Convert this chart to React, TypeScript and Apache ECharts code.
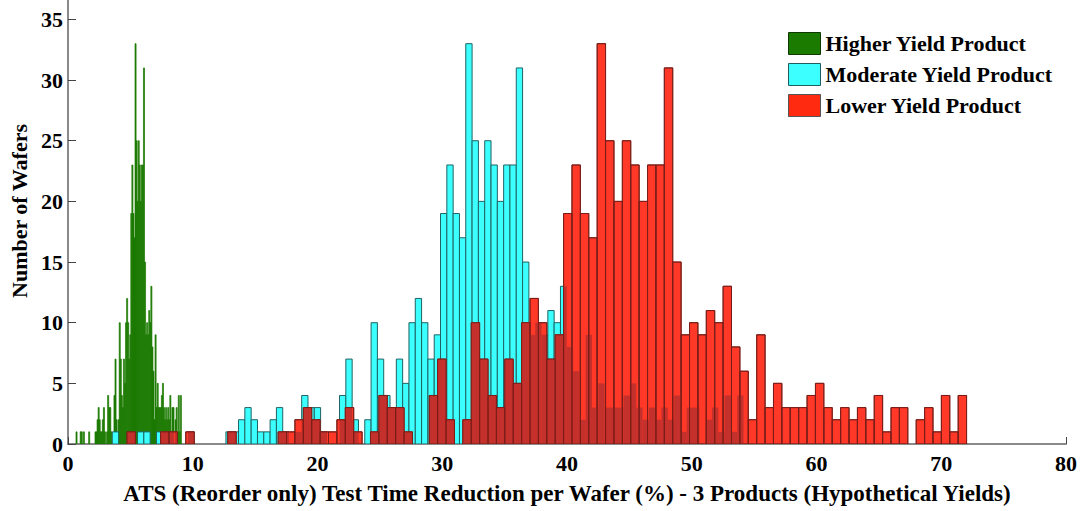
import React, { useEffect, useRef } from "react";
import * as echarts from "echarts";

// Histogram counts (100 bins each)
const higherCounts = [
  1, 0, 0, 0, 1, 1, 0, 1, 0, 0,
  0, 0, 1, 0, 0, 0, 0, 0, 1, 1,
  2, 3, 2, 1, 1, 2, 3, 1, 0, 1,
  4, 3, 3, 1, 0, 0, 4, 7, 2, 0,
  2, 10, 7, 4, 3, 7, 5, 10, 12, 10,
  7, 9, 19, 23, 19, 17, 33, 25, 20, 25,
  23, 20, 23, 23, 31, 15, 9, 10, 9, 11,
  10, 13, 8, 6, 2, 9, 3, 5, 3, 3,
  3, 4, 5, 3, 2, 3, 2, 3, 2, 4,
  1, 3, 3, 0, 2, 3, 1, 4, 1, 4,
];
const moderateCounts = [
  1, 0, 0, 0, 1, 1, 0, 1, 0, 0,
  0, 0, 1, 0, 0, 0, 0, 0, 1, 1,
  2, 3, 2, 1, 1, 2, 3, 1, 0, 1,
  4, 3, 3, 1, 0, 0, 4, 7, 2, 0,
  2, 10, 7, 4, 3, 7, 5, 10, 12, 10,
  7, 9, 19, 23, 19, 17, 33, 25, 20, 25,
  23, 20, 23, 23, 31, 15, 9, 10, 9, 11,
  10, 13, 8, 6, 2, 9, 3, 5, 3, 3,
  3, 4, 5, 3, 2, 3, 2, 3, 2, 4,
  1, 3, 3, 0, 2, 3, 1, 4, 1, 4,
];
const lowerCounts = [
  1, 0, 0, 0, 1, 1, 0, 1, 0, 0,
  0, 0, 1, 0, 0, 0, 0, 0, 1, 1,
  2, 3, 2, 1, 1, 2, 3, 1, 0, 1,
  4, 3, 3, 1, 0, 0, 4, 7, 2, 0,
  2, 10, 7, 4, 3, 7, 5, 10, 12, 10,
  7, 9, 19, 23, 19, 17, 33, 25, 20, 25,
  23, 20, 23, 23, 31, 15, 9, 10, 9, 11,
  10, 13, 8, 6, 2, 9, 3, 5, 3, 3,
  3, 4, 5, 3, 2, 3, 2, 3, 2, 4,
  1, 3, 3, 0, 2, 3, 1, 4, 1, 4,
];

// bin start and width (in % test time reduction)
const higherBins = { start: 0.641, width: 0.0845 };
const moderateBins = { start: 3.55, width: 0.506 };
const lowerBins = { start: 4.73, width: 0.673 };

const seriesNames = ["Higher Yield Product", "Moderate Yield Product", "Lower Yield Product"];
const xTicks = [0, 10, 20, 30, 40, 50, 60, 70, 80];
const yTicks = [0, 5, 10, 15, 20, 25, 30, 35];
const xTitle = "ATS (Reorder only) Test Time Reduction per Wafer (%) - 3 Products (Hypothetical Yields)";
const yTitle = "Number of Wafers";

type Bin = [number, number, number];

function toBins(start: number, width: number, counts: number[]): Bin[] {
  return counts
    .map((c, i) => [start + i * width, start + (i + 1) * width, c] as Bin)
    .filter((b) => b[2] > 0);
}

function heightAt(bins: Bin[], x: number): number {
  for (const b of bins) if (x >= b[0] && x < b[1]) return b[2];
  return 0;
}

function overlapBins(top: Bin[], under: Bin[][]): Bin[] {
  const out: Bin[] = [];
  for (const [a, b, h] of top) {
    const pts = new Set<number>([a, b]);
    under.forEach((bs) =>
      bs.forEach(([u0, u1]) => {
        if (u0 > a && u0 < b) pts.add(u0);
        if (u1 > a && u1 < b) pts.add(u1);
      })
    );
    const xs = Array.from(pts).sort((p, q) => p - q);
    let cur: Bin | null = null;
    for (let i = 0; i < xs.length - 1; i++) {
      const mid = (xs[i] + xs[i + 1]) / 2;
      const hu = Math.max(...under.map((bs) => heightAt(bs, mid)));
      const hh = Math.min(h, hu);
      if (cur && cur[2] === hh) {
        cur[1] = xs[i + 1];
      } else {
        if (cur && cur[2] > 0) out.push(cur);
        cur = [xs[i], xs[i + 1], hh];
      }
    }
    if (cur && cur[2] > 0) out.push(cur);
  }
  return out;
}

const FONT = '"Liberation Serif", "Times New Roman", serif';

const makeRender = (fill: string, stroke: string, lw: number) => (_params: any, api: any) => {
  const x0 = api.value(0);
  const x1 = api.value(1);
  const h = api.value(2);
  const p0 = api.coord([x0, h]);
  const p1 = api.coord([x1, 0]);
  return {
    type: "rect",
    shape: { x: p0[0], y: p0[1], width: p1[0] - p0[0], height: p1[1] - p0[1] },
    style: { fill, stroke, lineWidth: lw },
  };
};

export default function App() {
  const ref = useRef<HTMLDivElement>(null);
  useEffect(() => {
    if (!ref.current) return;
    const chart = echarts.init(ref.current, null, { renderer: "svg" });

    const hi = toBins(higherBins.start, higherBins.width, higherCounts);
    const mo = toBins(moderateBins.start, moderateBins.width, moderateCounts);
    const lo = toBins(lowerBins.start, lowerBins.width, lowerCounts);
    const ov = overlapBins(lo, [mo, hi]);

    const GREEN = "#1b7a00";
    const CYAN = "#3cffff";
    const RED = "#ff3828";
    const DARKRED = "#c4302b";

    const custom = (name: string, data: Bin[], fill: string, stroke: string, lw: number, z: number) => ({
      type: "custom",
      name,
      data,
      encode: { x: [0, 1], y: 2 },
      itemStyle: { color: fill },
      renderItem: makeRender(fill, stroke, lw),
      clip: true,
      z,
      silent: true,
    });

    chart.setOption({
      animation: false,
      backgroundColor: "#ffffff",
      grid: { left: 68, right: 17, top: 0, bottom: 67 },
      legend: {
        data: [
          { name: seriesNames[0], itemStyle: { color: GREEN, borderColor: "#0e3a00", borderWidth: 1 } },
          { name: seriesNames[1], itemStyle: { color: CYAN, borderColor: "#1f5f5f", borderWidth: 1 } },
          { name: seriesNames[2], itemStyle: { color: "#ff2a10", borderColor: "#555555", borderWidth: 1 } },
        ],
        orient: "vertical",
        left: 788,
        top: 32,
        padding: 0,
        icon: "rect",
        itemWidth: 32,
        itemHeight: 22,
        itemGap: 8,
        selectedMode: false,
        textStyle: { fontFamily: FONT, fontWeight: "bold", fontSize: 22, color: "#000" },
      },
      xAxis: {
        type: "value",
        min: 0,
        max: 80,
        interval: 10,
        name: xTitle,
        nameLocation: "middle",
        nameGap: 38,
        nameTextStyle: { fontFamily: FONT, fontWeight: "bold", fontSize: 23, color: "#000" },
        axisLine: { show: true, lineStyle: { color: "#8a8a8a", width: 2 } },
        axisTick: { show: true, inside: true, length: 7, lineStyle: { color: "#444" }, customValues: xTicks },
        axisLabel: { fontFamily: FONT, fontWeight: "bold", fontSize: 22, color: "#000", margin: 8, customValues: xTicks },
        splitLine: { show: false },
      },
      yAxis: {
        type: "value",
        min: 0,
        max: 36.6,
        name: yTitle,
        nameLocation: "middle",
        nameGap: 38,
        nameTextStyle: { fontFamily: FONT, fontWeight: "bold", fontSize: 22, color: "#000", padding: [0, 0, 0, 22] },
        axisLine: { show: true, lineStyle: { color: "#8a8a8a", width: 2 } },
        axisTick: { show: true, inside: true, length: 8, lineStyle: { color: "#444" }, customValues: yTicks },
        axisLabel: { fontFamily: FONT, fontWeight: "bold", fontSize: 22, color: "#000", margin: 5, customValues: yTicks },
        splitLine: { show: false },
      },
      series: [
        custom(seriesNames[0], hi, GREEN, GREEN, 0.7, 1),
        custom(seriesNames[1], mo, CYAN, "#1f6363", 1, 2),
        custom(seriesNames[2], lo, RED, "#8b2a22", 1, 3),
        custom("overlap", ov, DARKRED, "none", 0, 4),
        custom("lowerOutline", lo, "none", "#7a1d18", 1, 5),
      ],
    });
    return () => chart.dispose();
  }, []);
  return <div ref={ref} style={{ position: "fixed", left: 0, top: 0, width: 1083, height: 511 }} />;
}
